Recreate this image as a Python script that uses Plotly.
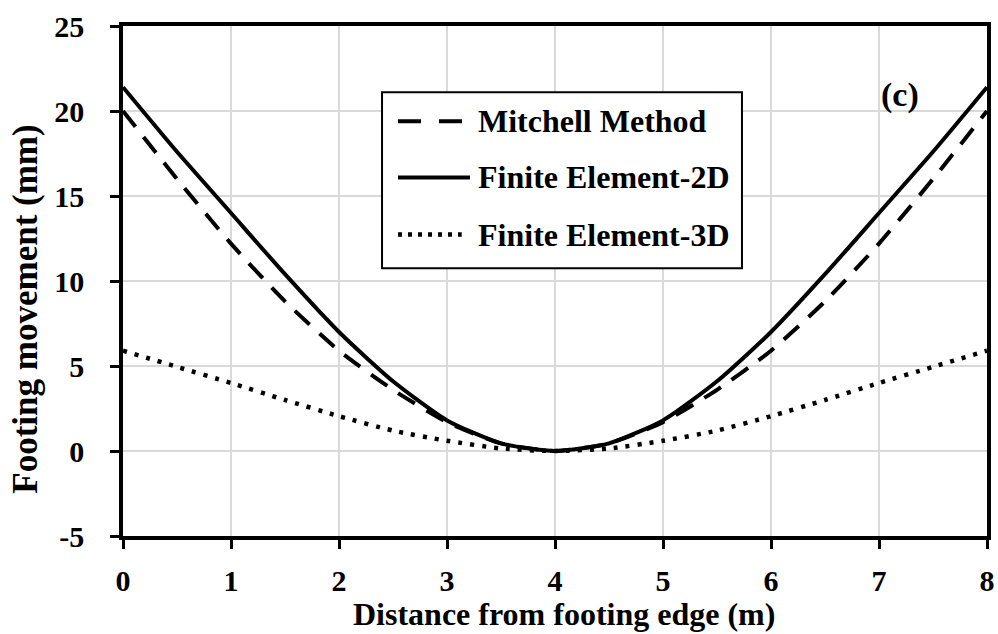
import plotly.graph_objects as go

# ---- data ----
distance_m = [0, 0.5, 1, 1.5, 2, 2.5, 3, 3.5, 4, 4.5, 5, 5.5, 6, 6.5, 7, 7.5, 8]
mitchell = [20.0, 16.0, 12.2, 8.8, 5.9, 3.6, 1.7, 0.45, 0.0, 0.45, 1.7, 3.6, 5.9, 8.8, 12.2, 16.0, 20.0]
fe_2d = [21.4, 17.6, 14.0, 10.4, 7.0, 4.1, 1.8, 0.45, 0.0, 0.45, 1.8, 4.1, 7.0, 10.4, 14.0, 17.6, 21.4]
fe_3d = [5.9, 4.95, 4.0, 3.0, 2.05, 1.2, 0.6, 0.15, 0.0, 0.15, 0.6, 1.2, 2.05, 3.0, 4.0, 4.95, 5.9]

series_names = ["Mitchell Method", "Finite Element-2D", "Finite Element-3D"]
x_ticks = [0, 1, 2, 3, 4, 5, 6, 7, 8]
x_tick_labels = ["0", "1", "2", "3", "4", "5", "6", "7", "8"]
y_ticks = [-5, 0, 5, 10, 15, 20, 25]
y_tick_labels = ["-5", "0", "5", "10", "15", "20", "25"]
x_title = "Distance from footing edge (m)"
y_title = "Footing movement (mm)"
panel_label = "(c)"

FONT = "Liberation Serif"
trace_dash = ["20px,13px", "solid", "4px,8px"]
legend_dash = ["23px,18px", "solid", "4px,6px"]
trace_width = [4, 4, 4.5]

fig = go.Figure()
for name, ys, dash, w in zip(series_names, [mitchell, fe_2d, fe_3d], trace_dash, trace_width):
    fig.add_trace(go.Scatter(
        x=distance_m, y=ys, mode="lines", name=name, showlegend=False,
        line=dict(color="black", width=w, dash=dash, shape="spline", smoothing=0.6),
    ))

axis_common = dict(
    showline=True, linecolor="black", linewidth=3.5, mirror=True,
    ticks="outside", ticklen=9, tickwidth=3, tickcolor="black",
    showgrid=True, gridcolor="#d9d9d9", gridwidth=1.5, zeroline=False,
    automargin=False,
    tickfont=dict(family=FONT, size=30, color="black", weight="bold"),
)

fig.update_xaxes(range=[0, 8], tickvals=x_ticks, ticktext=x_tick_labels,
                 ticklabelstandoff=6, **axis_common)
fig.update_yaxes(range=[-5, 25], tickvals=y_ticks, ticktext=y_tick_labels,
                 ticklabelstandoff=20, **axis_common)

# custom legend box
lx0, lx1, ly0, ly1 = 0.2998, 0.7164, 0.525, 0.870
shapes = [dict(type="rect", xref="paper", yref="paper", x0=lx0, x1=lx1, y0=ly0, y1=ly1,
               line=dict(color="black", width=2), fillcolor="white", layer="above")]
row_y = [0.813, 0.703, 0.591]
sample_end = [0.3924, 0.4016, 0.392]
annotations = []
for name, dash, ry, xe, w in zip(series_names, legend_dash, row_y, sample_end, trace_width):
    shapes.append(dict(type="line", xref="paper", yref="paper", x0=0.3183, x1=xe, y0=ry, y1=ry,
                       line=dict(color="black", width=w, dash=dash), layer="above"))
    annotations.append(dict(xref="paper", yref="paper", x=0.4086, y=ry, xanchor="left",
                            yanchor="middle", text=name, showarrow=False,
                            font=dict(family=FONT, size=32, color="black", weight="bold")))

annotations.append(dict(xref="paper", yref="paper", x=0.899, y=0.864, text=panel_label,
                        showarrow=False, xanchor="center", yanchor="middle",
                        font=dict(family=FONT, size=34, color="black", weight="bold")))
annotations.append(dict(xref="paper", yref="paper", x=0.5104, y=-0.152, text=x_title,
                        showarrow=False, xanchor="center", yanchor="middle",
                        font=dict(family=FONT, size=32, color="black", weight="bold")))
annotations.append(dict(xref="paper", yref="paper", x=-0.113, y=0.4445, text=y_title,
                        showarrow=False, xanchor="center", yanchor="middle", textangle=-90,
                        font=dict(family=FONT, size=35, color="black", weight="bold")))

fig.update_layout(
    width=998, height=634,
    margin=dict(l=123, r=11, t=26, b=98, autoexpand=False),
    paper_bgcolor="white", plot_bgcolor="white",
    shapes=shapes, annotations=annotations,
)

fig.write_html("out.html")
